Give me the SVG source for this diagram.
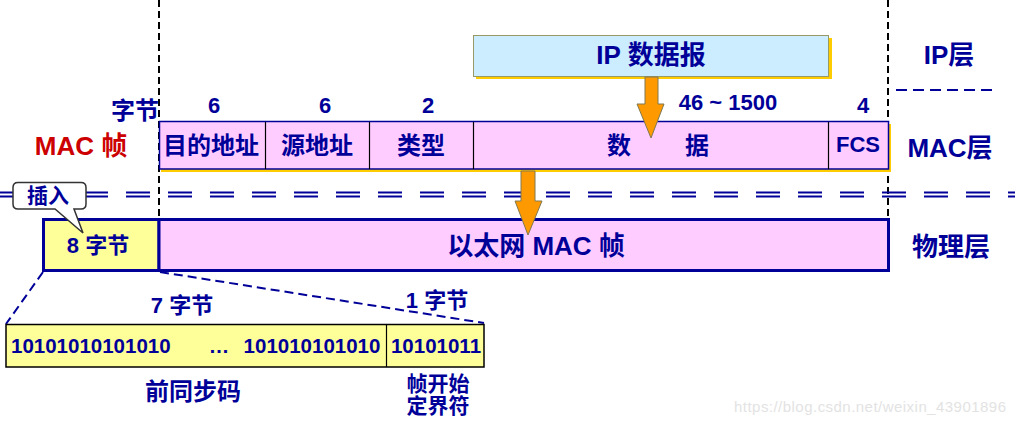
<svg xmlns="http://www.w3.org/2000/svg" width="1015" height="425" viewBox="0 0 1015 425">
<style>
text{font-family:"Liberation Sans","Noto Sans CJK SC",sans-serif;font-weight:bold;fill:#000099;text-anchor:middle}
.big{font-size:26px}
.mid{font-size:22px}
.cjk{font-size:24px}
.bits{font-size:20.5px}
.red{fill:#CC0000}
.vdash{stroke:#000;stroke-width:2;stroke-dasharray:7 4;fill:none}
.ddash{stroke:#000099;stroke-width:2;stroke-dasharray:24 18;fill:none}
.ndash{stroke:#000099;stroke-width:2;stroke-dasharray:9 5;fill:none}
.arrow{fill:#FF9900;stroke:#807850;stroke-width:1}
.wm{font-family:"Liberation Sans",sans-serif;font-weight:normal;font-size:15px;fill:#E3E3E3;text-anchor:start}
</style>
<rect width="1015" height="425" fill="#fff"/>
<g id="guides">
<line class="vdash" x1="159" y1="0" x2="159" y2="219"/>
<line class="vdash" x1="888" y1="0" x2="888" y2="219"/>
<line class="ddash" x1="0" y1="192.5" x2="1015" y2="192.5"/>
<line class="ddash" x1="0" y1="196.5" x2="1015" y2="196.5"/>
<line x1="896" y1="90" x2="997" y2="90" stroke="#000099" stroke-width="2" stroke-dasharray="11 6"/>
</g>
<g id="ip-datagram">
<rect x="476" y="38" width="356" height="41" fill="#FFCC00"/>
<rect x="473.5" y="35.5" width="355" height="41" fill="#CCECFF" stroke="#999966" stroke-width="1"/>
<text class="big" x="651" y="64">IP 数据报</text>
</g>
<g id="mac-frame">
<rect x="161" y="124" width="730" height="48" fill="#FFCC00"/>
<rect x="159.5" y="121.5" width="729" height="47.5" fill="#FFCCFF" stroke="#000099" stroke-width="1.5"/>
<line x1="265.5" y1="122" x2="265.5" y2="169" stroke="#000" stroke-width="1.2"/>
<line x1="369.5" y1="122" x2="369.5" y2="169" stroke="#000" stroke-width="1.2"/>
<line x1="473.5" y1="122" x2="473.5" y2="169" stroke="#000" stroke-width="1.2"/>
<line x1="828.5" y1="122" x2="828.5" y2="169" stroke="#000" stroke-width="1.2"/>
<text class="cjk" x="211" y="154">目的地址</text>
<text class="cjk" x="317" y="154">源地址</text>
<text class="cjk" x="421" y="154">类型</text>
<text class="cjk" x="619" y="154">数</text>
<text class="cjk" x="697" y="154">据</text>
<text class="mid" x="858" y="152">FCS</text>
</g>
<g id="byte-labels">
<text class="cjk" x="135" y="119">字节</text>
<text class="mid" x="214" y="113">6</text>
<text class="mid" x="325" y="113">6</text>
<text class="mid" x="428" y="113">2</text>
<text class="mid" x="728" y="110">46 ~ 1500</text>
<text class="mid" x="863" y="113">4</text>
</g>
<g id="layer-labels">
<text class="big red" x="81" y="155">MAC 帧</text>
<text class="big" x="949" y="64">IP层</text>
<text class="big" x="950" y="157">MAC层</text>
<text class="big" x="951" y="256">物理层</text>
</g>
<g id="phys-frame">
<rect x="43.5" y="219.5" width="115.5" height="51" fill="#FFFF99" stroke="#000099" stroke-width="3"/>
<rect x="159" y="219.5" width="729.5" height="51" fill="#FFCCFF" stroke="#000099" stroke-width="3"/>
<text class="mid" x="98" y="253">8 字节</text>
<text class="big" x="536" y="255">以太网 MAC 帧</text>
</g>
<g id="callout">
<path d="M18,182.5 H81 Q86,182.5 86,187.5 V204 Q86,209 81,209 H74 L83,233 L55,209 H18 Q13,209 13,204 V187.5 Q13,182.5 18,182.5 Z" fill="#fff" stroke="#333" stroke-width="1.5"/>
<text class="mid" x="48" y="203" style="font-size:21px">插入</text>
</g>
<g id="connectors">
<line class="ndash" x1="43" y1="272" x2="6" y2="324"/>
<line class="ndash" x1="160" y1="272" x2="484" y2="323"/>
<polygon class="arrow" points="645,77 658,77 658,104 664,104 651,138 637,104 645,104"/>
<polygon class="arrow" points="521,171 535,171 535,201 542,201 528,235 515,201 521,201"/>
</g>
<g id="preamble">
<rect x="6" y="324.5" width="478" height="42.5" fill="#FFFF99" stroke="#000" stroke-width="1.5"/>
<line x1="386.5" y1="325" x2="386.5" y2="367" stroke="#000" stroke-width="1.2"/>
<text class="bits" x="11" y="353" style="text-anchor:start">10101010101010</text>
<text class="bits" x="219" y="353">…</text>
<text class="bits" x="312" y="353">101010101010</text>
<text class="bits" x="436" y="353">10101011</text>
<text class="mid" x="182" y="313">7 字节</text>
<text class="mid" x="437" y="308">1 字节</text>
<text class="cjk" x="193" y="400">前同步码</text>
<text class="cjk" x="438" y="391" style="font-size:21px">帧开始</text>
<text class="cjk" x="438" y="413" style="font-size:21px">定界符</text>
</g>
<text class="wm" x="734" y="412" textLength="272">https://blog.csdn.net/weixin_43901896</text>
</svg>
